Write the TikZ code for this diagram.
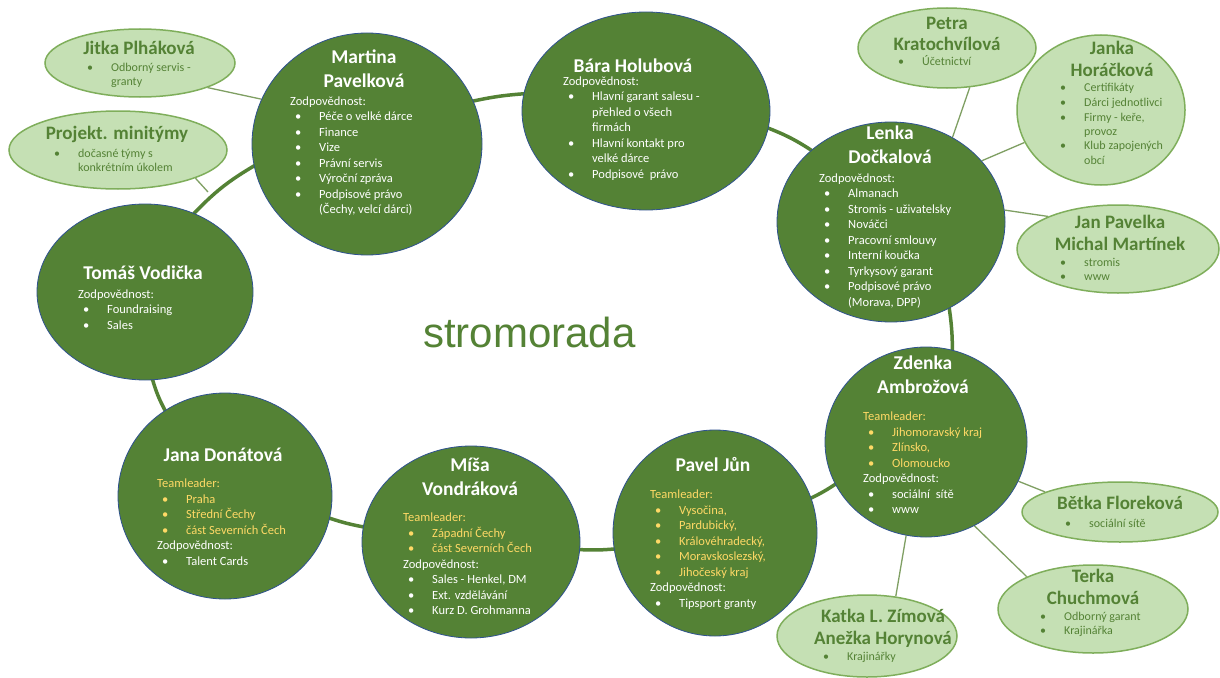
\documentclass[tikz,border=0pt]{standalone}
\usepackage{fontspec}
\setmainfont{Carlito}
\newfontfamily\logofont{Liberation Sans}
\usetikzlibrary{shapes.geometric}
\definecolor{dg}{HTML}{548235}
\definecolor{lg}{HTML}{C5E0B4}
\definecolor{lgb}{HTML}{7FAE5B}
\definecolor{lnk}{HTML}{7F9F63}
\definecolor{blu}{HTML}{2F528F}
\definecolor{yel}{HTML}{FFD966}
\pgfdeclarelayer{bg}
\pgfsetlayers{bg,main}
\newcommand\nmbox[1]{\parbox[t]{260pt}{\centering #1}}
\newcommand\bdbox[1]{\parbox[t]{230pt}{\raggedright #1}}
\newcommand\bu{\hspace*{5pt}\makebox[24pt][l]{•}}
\newcommand\lbu{\makebox[24pt][l]{•}}
\newcommand\ind{\hspace*{29pt}}
\newcommand\lind{\hspace*{24pt}}
\newcommand\yl[1]{{\color{yel}#1}}
\tikzset{
  bigc/.style={ellipse, fill=dg, draw=blu, line width=0.8pt, inner sep=0pt},
  smallc/.style={ellipse, fill=lg, draw=lgb, line width=1.5pt, inner sep=0pt},
  ring/.style={draw=dg, line width=3.5pt, shorten <=-3pt, shorten >=-3pt},
  link/.style={draw=lnk, line width=1.3pt},
  bname/.style={anchor=base, inner sep=0pt, text=white, font=\fontsize{19.5}{24}\selectfont\bfseries},
  lname/.style={anchor=base, inner sep=0pt, text=dg, font=\fontsize{19}{21.5}\selectfont\bfseries},
  bbody/.style={anchor=base west, inner sep=0pt, text=white, font=\fontsize{12.5}{15.5}\selectfont},
  lbody/.style={anchor=base west, inner sep=0pt, text=dg, font=\fontsize{12}{14.5}\selectfont},
}
\begin{document}
\begin{tikzpicture}[x=1pt,y=-1pt]
\useasboundingbox (0,0) rectangle (1220,677);

% big circles
\node[bigc, minimum width=230pt, minimum height=222pt] (martina) at (367,144) {};
\node[bigc, minimum width=248pt, minimum height=198pt] (bara) at (646,111) {};
\node[bigc, minimum width=228pt, minimum height=200pt] (lenka) at (891,222) {};
\node[bigc, minimum width=216pt, minimum height=176pt] (tomas) at (145,292) {};
\node[bigc, minimum width=214pt, minimum height=206pt] (jana) at (225,496) {};
\node[bigc, minimum width=218pt, minimum height=192pt] (misa) at (471,542) {};
\node[bigc, minimum width=204pt, minimum height=206pt] (pavel) at (715,533) {};
\node[bigc, minimum width=202pt, minimum height=190pt] (zdenka) at (926,442) {};

% light ellipses
\node[smallc, minimum width=190pt, minimum height=68pt] (jitka) at (140,63) {};
\node[smallc, minimum width=218pt, minimum height=78pt] (projekt) at (118,150) {};
\node[smallc, minimum width=178pt, minimum height=80pt] (petra) at (947,48) {};
\node[smallc, minimum width=168pt, minimum height=150pt] (janka) at (1101,110) {};
\node[smallc, minimum width=202pt, minimum height=88pt] (jan) at (1118,249) {};
\node[smallc, minimum width=196pt, minimum height=60pt] (betka) at (1120,512) {};
\node[smallc, minimum width=190pt, minimum height=88pt] (terka) at (1093,609) {};
\node[smallc, minimum width=180pt, minimum height=82pt] (katka) at (867,636) {};

\coordinate (pjend) at (208,192);

\begin{pgfonlayer}{bg}
  \fill[white] (0,0) rectangle (1220,677);
  \draw[ring] (tomas.58) to[bend left=8] (martina.191);
  \draw[ring] (martina.22) to[bend left=4] (bara.172);
  \draw[ring] (bara.-8) to[bend left=6] (lenka.138);
  \draw[ring] (lenka.-56) to[bend left=4] (zdenka.74);
  \draw[ring] (zdenka.205) to[bend left=4] (pavel.20);
  \draw[ring] (pavel.189) to[bend left=4] (misa.-4);
  \draw[ring] (misa.172) to[bend left=4] (jana.-12);
  \draw[ring] (jana.125) to[bend left=6] (tomas.-85);

  \draw[link] (jitka.-20) -- (martina.157);
  \draw[link] (projekt.-20) -- (pjend);
  \draw[link] (petra.-60) -- (lenka.54);
  \draw[link] (janka.203) -- (lenka.34);
  \draw[link] (jan.155) -- (lenka.6);
  \draw[link] (betka.165) -- (zdenka.-23.5);
  \draw[link] (terka.154) -- (zdenka.-60);
  \draw[link] (katka.54) -- (zdenka.-102);
\end{pgfonlayer}

% logo
\node[anchor=base west, inner sep=0pt, text=dg, font=\logofont\fontsize{42}{42}\selectfont] (logo) at (423,347) {stromorada};

% big circle texts
\node[bname] (martinaN) at (364,63.5) {\nmbox{Martina\\Pavelková}};
\node[bbody] (martinaB) at (290,105) {\bdbox{Zodpovědnost:\\\bu Péče o velké dárce\\\bu Finance\\\bu Vize\\\bu Právní servis\\\bu Výroční zpráva\\\bu Podpisové právo\\\ind(Čechy, velcí dárci)}};

\node[bname] (baraN) at (633,72) {\nmbox{Bára Holubová}};
\node[bbody] (baraB) at (563,85) {\bdbox{Zodpovědnost:\\\bu Hlavní garant salesu -\\\ind přehled o všech\\\ind firmách\\\bu Hlavní kontakt pro\\\ind velké dárce\\\bu Podpisové~ právo}};

\node[bname] (lenkaN) at (890,139.5) {\nmbox{Lenka\\Dočkalová}};
\node[bbody] (lenkaB) at (819,182) {\bdbox{Zodpovědnost:\\\bu Almanach\\\bu Stromis - uživatelsky\\\bu Nováčci\\\bu Pracovní smlouvy\\\bu Interní koučka\\\bu Tyrkysový garant\\\bu Podpisové právo\\\ind(Morava, DPP)}};

\node[bname] (tomasN) at (143,279.5) {\nmbox{Tomáš Vodička}};
\node[bbody] (tomasB) at (78,298) {\bdbox{Zodpovědnost:\\\bu Foundraising\\\bu Sales}};

\node[bname] (janaN) at (223,461.5) {\nmbox{Jana Donátová}};
\node[bbody] (janaB) at (157,479) {\bdbox{\yl{Teamleader:}\\\yl{\bu Praha}\\\yl{\bu Střední Čechy}\\\yl{\bu část Severních Čech}\\Zodpovědnost:\\\bu Talent Cards}};

\node[bname] (misaN) at (470,471.5) {\nmbox{Míša\\Vondráková}};
\node[bbody] (misaB) at (403,513) {\bdbox{\yl{Teamleader:}\\\yl{\bu Západní Čechy}\\\yl{\bu část Severních Čech}\\Zodpovědnost:\\\bu Sales - Henkel, DM\\\bu Ext. vzdělávání\\\bu Kurz D. Grohmanna}};

\node[bname] (pavelN) at (713,471.5) {\nmbox{Pavel Jůn}};
\node[bbody] (pavelB) at (650,490) {\bdbox{\yl{Teamleader:}\\\yl{\bu Vysočina,}\\\yl{\bu Pardubický,}\\\yl{\bu Královéhradecký,}\\\yl{\bu Moravskoslezský,}\\\yl{\bu Jihočeský kraj}\\Zodpovědnost:\\\bu Tipsport granty}};

\node[bname] (zdenkaN) at (923,369.5) {\nmbox{Zdenka\\Ambrožová}};
\node[bbody] (zdenkaB) at (863,412) {\bdbox{\yl{Teamleader:}\\\yl{\bu Jihomoravský kraj}\\\yl{\bu Zlínsko,}\\\yl{\bu Olomoucko}\\Zodpovědnost:\\\bu sociální~ sítě\\\bu www}};

% light ellipse texts
\node[lname] (jitkaN) at (139,54.5) {\nmbox{Jitka Plháková}};
\node[lbody] (jitkaB) at (87,71) {\bdbox{\lbu Odborný servis -\\\lind granty}};

\node[lname] (projektN) at (117,139.5) {\nmbox{Projekt. minitýmy}};
\node[lbody] (projektB) at (54,157) {\bdbox{\lbu dočasné týmy s\\\lind konkrétním úkolem}};

\node[lname] (petraN) at (947,29.5) {\nmbox{Petra\\Kratochvílová}};
\node[lbody] (petraB) at (898,66) {\bdbox{\lbu Účetnictví}};

\node[lname] (jankaN) at (1112,54.5) {\nmbox{Janka\\Horáčková}};
\node[lbody] (jankaB) at (1060,92) {\bdbox{\lbu Certifikáty\\\lbu Dárci jednotlivci\\\lbu Firmy - keře,\\\lind provoz\\\lbu Klub zapojených\\\lind obcí}};

\node[lname] (janN) at (1120,228.5) {\nmbox{Jan Pavelka\\Michal Martínek}};
\node[lbody] (janB) at (1060,266) {\bdbox{\lbu stromis\\\lbu www}};

\node[lname] (betkaN) at (1120,509.5) {\nmbox{Bětka Floreková}};
\node[lbody] (betkaB) at (1065,527) {\bdbox{\lbu sociální sítě}};

\node[lname] (terkaN) at (1093,582.5) {\nmbox{Terka\\Chuchmová}};
\node[lbody] (terkaB) at (1040,620) {\bdbox{\lbu Odborný garant\\\lbu Krajinářka}};

\node[lname] (katkaN) at (883,622.5) {\nmbox{Katka L. Zímová\\Anežka Horynová}};
\node[lbody] (katkaB) at (823,660) {\bdbox{\lbu Krajinářky}};
\end{tikzpicture}
\end{document}
